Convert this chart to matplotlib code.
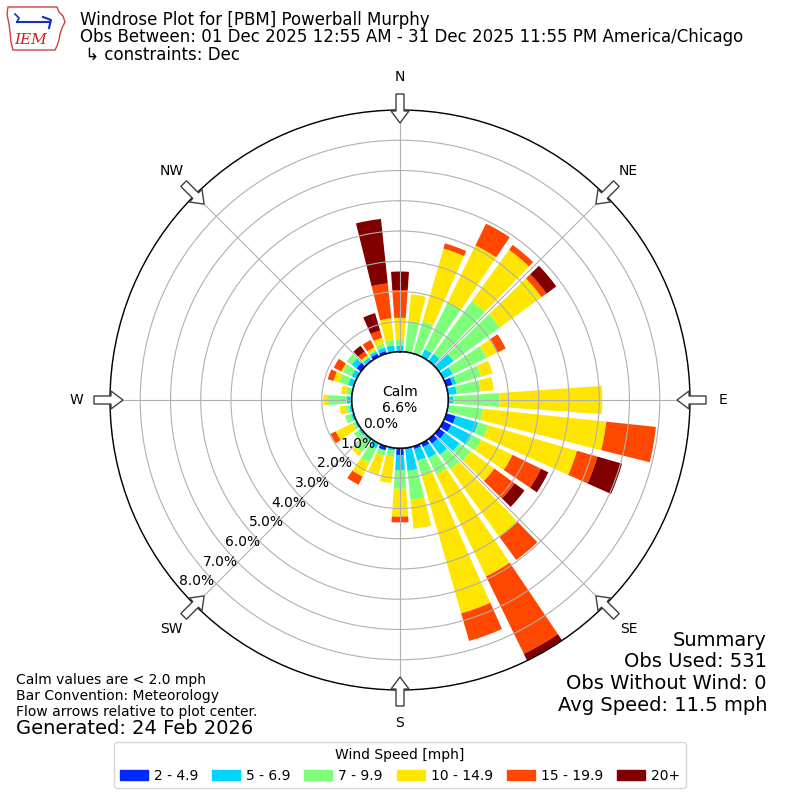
import numpy as np
import matplotlib
matplotlib.use('Agg')
import matplotlib.pyplot as plt
from matplotlib.patches import Circle, FancyArrow, Patch, Polygon

# direction bins (deg, meteorological: where wind comes from)
directions = np.arange(0, 360, 10)

# percent of observations for each speed bin, one value per direction
spd_2_5 = [0, 0, 0, 0, 0, 0, 0, 0.22, 0, 0, 0, 0.33, 0.30, 0.25, 0.20, 0.15, 0.10, 0.05,
           0.23, 0, 0.15, 0, 0, 0, 0, 0, 0, 0, 0, 0, 0, 0.19, 0.05, 0.12, 0.10, 0]
spd_5_7 = [0.20, 0.05, 0.05, 0.28, 0.30, 0.60, 0.35, 0.13, 0.30, 0.17, 0.05, 0.77, 0.75, 0.60, 0.45, 0.40, 0.40, 0.72,
           0.50, 0.10, 0, 0.20, 0.08, 0.10, 0.08, 0.10, 0.10, 0.18, 0.05, 0.20, 0.20, 0.20, 0.10, 0.08, 0.12, 0.23]
spd_7_10 = [0.22, 0.99, 1.07, 1.72, 2.15, 1.90, 1.25, 0.85, 0.80, 1.53, 1.12, 0.35, 0.35, 0.45, 0.60, 0.60, 0.50, 0.96,
            0.62, 0.20, 0.18, 0.53, 0.47, 0.20, 0.09, 0.20, 0.12, 0.61, 0.15, 0.30, 0.32, 0.20, 0.05, 0.05, 0.13, 0.18]
spd_10_15 = [0.71, 0.89, 2.50, 2.10, 2.10, 1.70, 0.40, 0.40, 0.43, 3.40, 4.10, 3.05, 1.15, 0.97, 2.75, 3.75, 4.75, 0.96,
             0.92, 0.87, 0.64, 0.50, 0.15, 0, 0.61, 0, 0.20, 0.16, 0.17, 0.20, 0.05, 0, 0.05, 0.10, 0.20, 0.72]
spd_15_20 = [0.92, 0, 0.18, 0.80, 0.20, 0.20, 0.30, 0, 0, 0, 1.65, 0.70, 1.05, 0.83, 0.95, 2.85, 0.95, 0,
             0.19, 0, 0, 0.30, 0, 0, 0.19, 0, 0, 0, 0, 0.20, 0.28, 0, 0.15, 0.27, 0.25, 1.16]
spd_20up = [0.61, 0, 0, 0, 0, 0.40, 0, 0, 0, 0, 0, 0.85, 0.27, 0.40, 0, 0.33, 0, 0,
            0, 0, 0, 0, 0, 0, 0, 0, 0, 0, 0, 0, 0, 0, 0.23, 0, 0.60, 2.14]

speed_labels = ['2 - 4.9', '5 - 6.9', '7 - 9.9', '10 - 14.9', '15 - 19.9', '20+']
calm_pct = 6.6
ring_ticks = [0, 1, 2, 3, 4, 5, 6, 7, 8]
compass = ['N', 'NE', 'E', 'SE', 'S', 'SW', 'W', 'NW']

title_lines = ['Windrose Plot for [PBM] Powerball Murphy',
               'Obs Between: 01 Dec 2025 12:55 AM - 31 Dec 2025 11:55 PM America/Chicago',
               ' \u21b3 constraints: Dec']
notes = ['Calm values are < 2.0 mph', 'Bar Convention: Meteorology',
         'Flow arrows relative to plot center.']
summary = ['Summary', 'Obs Used: 531', 'Obs Without Wind: 0', 'Avg Speed: 11.5 mph']

colors = plt.get_cmap('jet')(np.linspace(0, 1, 7)[1:])

fig = plt.figure(figsize=(8, 8), dpi=100)
ax = fig.add_axes([0.1375, 0.1375, 0.725, 0.725], projection='polar')
ax.set_theta_zero_location('N')
ax.set_theta_direction(-1)
rorg = 1.587
rmax = 8.0
ax.set_rorigin(-rorg)
ax.set_ylim(0, rmax)

theta = np.radians(directions)
base = np.zeros(len(directions))
for vals, c in zip([spd_2_5, spd_5_7, spd_7_10, spd_10_15, spd_15_20, spd_20up], colors):
    vals = np.array(vals)
    ax.bar(theta, vals, width=np.radians(8), bottom=base, color=c, lw=0, zorder=1)
    base = base + vals

ax.set_yticks(ring_ticks)
ax.set_yticklabels([])
ax.set_xticks(np.radians(np.arange(0, 360, 45)))
ax.set_xticklabels([])
ax.grid(True, color='#b0b0b0', lw=0.8)
ax.spines['polar'].set_linewidth(1.0)

# calm circle in the middle
calm_r = 0.5 * rorg / (rmax + rorg)
ax.add_patch(Circle((0.5, 0.5), calm_r, transform=ax.transAxes, fc='white',
                    ec='black', lw=1.5, zorder=3))
ax.text(0.5, 0.5, 'Calm\n%.1f%%' % calm_pct, transform=ax.transAxes, ha='center',
        va='center', fontsize=10, zorder=6)

for p in ring_ticks:
    ax.text(np.radians(229.5), p, '%.1f%%' % p, ha='left', va='bottom', fontsize=10, zorder=6)

for i, lab in enumerate(compass):
    ang = np.radians(i * 45)
    ax.text(ang, 9.1, lab, ha='center', va='center', fontsize=10, clip_on=False)
    sx, sy = np.sin(ang), np.cos(ang)
    r0 = 0.5276
    arr = FancyArrow(0.5 + r0 * sx, 0.5 + r0 * sy, -0.05 * sx, -0.05 * sy,
                     width=0.0138, head_width=0.031, head_length=0.0207,
                     length_includes_head=True, transform=ax.transAxes,
                     fc='white', ec='#404040', lw=1, clip_on=False, zorder=10)
    ax.add_patch(arr)

# header text
for i, line in enumerate(title_lines):
    fig.text(80 / 800., 1 - (20 + 17.5 * i) / 800., line, va='center', fontsize=12)

# rough IEM logo
lax = fig.add_axes([5 / 800., 1 - 52 / 800., 62 / 800., 48 / 800.])
lax.set_xlim(0, 62)
lax.set_ylim(48, 0)
lax.axis('off')
iowa = [(3, 3), (52, 3), (54, 8), (58, 12), (60, 18), (57, 24), (55, 30), (54, 36),
        (52, 42), (50, 46), (8, 46), (6, 38), (5, 28), (4, 20), (2, 10)]
lax.add_patch(Polygon(iowa, closed=True, fc='white', ec='#d04040', lw=1))
lax.plot([12, 44], [18, 18], color='#1030c0', lw=1.5)
lax.plot([10, 14, 12], [10, 14, 18], color='#1030c0', lw=1.2)
lax.plot([38, 46, 44], [13, 16, 24], color='#1030c0', lw=1.5)
lax.text(26, 36, 'IEM', color='#d02020', fontsize=11, family='DejaVu Serif',
         style='italic', ha='center', va='center')

for i, line in enumerate(notes):
    fig.text(16 / 800., 1 - (680 + 16 * i) / 800., line, va='center', fontsize=10)
fig.text(16 / 800., 1 - 729 / 800., 'Generated: 24 Feb 2026', va='center', fontsize=14)

for i, line in enumerate(summary):
    fig.text(767 / 800., 1 - (640 + 21.7 * i) / 800., line, va='center', ha='right', fontsize=14)

handles = [Patch(color=c, label=l) for c, l in zip(colors, speed_labels)]
fig.legend(handles=handles, ncol=6, loc='lower center', bbox_to_anchor=(0.5, 0.006),
           title='Wind Speed [mph]', fontsize=10, title_fontsize=10,
           handletextpad=0.45, columnspacing=1.0)

fig.savefig('out.png', dpi=100)
